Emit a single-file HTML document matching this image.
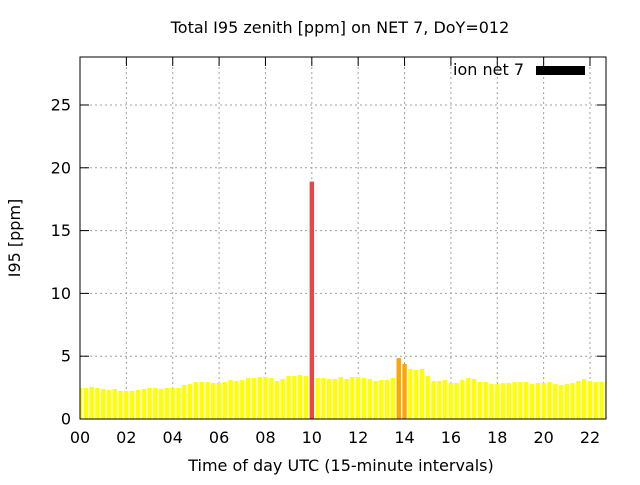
<!DOCTYPE html>
<html><head><meta charset="utf-8"><style>
body{margin:0;background:#fff}
svg{font-family:"DejaVu Sans","Liberation Sans",sans-serif}
</style></head><body>
<svg id="chart" width="640" height="480" xmlns="http://www.w3.org/2000/svg">
<text x="340" y="33" font-size="16" text-anchor="middle">Total I95 zenith [ppm] on NET 7, DoY=012</text>
<text transform="translate(20,238) rotate(-90)" font-size="16" text-anchor="middle">I95 [ppm]</text>
<text x="341" y="471" font-size="16" text-anchor="middle">Time of day UTC (15-minute intervals)</text>
<g id="grid"></g>
<g id="axes"></g>
<g id="bars"></g>
<rect x="80" y="57" width="526" height="362" fill="none" stroke="#000"/>
<text x="524" y="75" font-size="16" text-anchor="end">ion net 7</text>
<rect x="536" y="66" width="49" height="9" fill="#000"/>
</svg>
<script>
const values=[2.47,2.47,2.55,2.47,2.39,2.31,2.39,2.23,2.23,2.23,2.31,2.39,2.47,2.47,2.39,2.47,2.47,2.47,2.71,2.79,2.94,2.94,2.94,2.86,2.86,2.94,3.10,3.02,3.10,3.26,3.26,3.34,3.34,3.26,3.02,3.18,3.42,3.42,3.50,3.42,
18.9,3.26,3.26,3.18,3.18,3.34,3.18,3.34,3.34,3.26,3.18,3.02,3.10,3.10,3.26,4.85,4.38,3.98,3.90,3.98,3.42,3.02,3.02,3.10,2.86,2.86,3.10,3.26,3.18,2.94,2.94,2.78,2.78,2.86,2.86,2.94,2.94,2.94,2.78,2.86,2.86,2.94,2.78,2.70,2.78,2.86,3.02,3.18,3.02,2.94,2.94,3.02];
const xTicks=["00","02","04","06","08","10","12","14","16","18","20","22"];
const yTicks=[0,5,10,15,20,25];
const L=80,R=606,T=57,B=419,ymax=28.82,hourPx=(590-80)/22;
const X=h=>L+h*hourPx, Y=v=>B-v*(B-T)/ymax;
const NS="http://www.w3.org/2000/svg";
function mk(p,t,a){const e=document.createElementNS(NS,t);for(const k in a)e.setAttribute(k,a[k]);p.appendChild(e);return e;}
const grid=document.getElementById('grid'),bars=document.getElementById('bars'),axes=document.getElementById('axes');
const defs=mk(document.getElementById('chart'),'defs',{});
const cp=mk(defs,'clipPath',{id:'clip'});mk(cp,'rect',{x:L,y:T,width:R-L,height:B-T});
bars.setAttribute('clip-path','url(#clip)');
yTicks.forEach(v=>{
 const y=Y(v);
 if(v>0){const g=mk(grid,'line',{x1:L,x2:R,y1:y,y2:y,stroke:'#a0a0a0','stroke-dasharray':'2,3'});
 }
 const t=mk(axes,'text',{x:L-9,y:y+5.5,'font-size':16,'text-anchor':'end'});t.textContent=v;
 
 mk(axes,'line',{x1:L,x2:L+9,y1:y,y2:y,stroke:'#000'});
 mk(axes,'line',{x1:R,x2:R-9,y1:y,y2:y,stroke:'#000'});
});
xTicks.forEach(s=>{
 const x=X(+s);
 if(+s>0){const g=mk(grid,'line',{x1:x,x2:x,y1:T,y2:B,stroke:'#a0a0a0','stroke-dasharray':'2,3'});
 }
 const t=mk(axes,'text',{x:x,y:443,'font-size':16,'text-anchor':'middle'});t.textContent=s;
 
 mk(axes,'line',{x1:x,x2:x,y1:B,y2:B-9,stroke:'#000'});
 mk(axes,'line',{x1:x,x2:x,y1:T,y2:T+9,stroke:'#000'});
});
values.forEach((v,i)=>{
 const cx=X(i/4),w=4.4;
 const col=v>10?'#ee4444':(v>4.2?'#ffa500':'#ffff00');
 const r=mk(bars,'rect',{x:cx-w/2,y:Y(v),width:w,height:B-Y(v),fill:col});
 
 
});
</script>
</body></html>
